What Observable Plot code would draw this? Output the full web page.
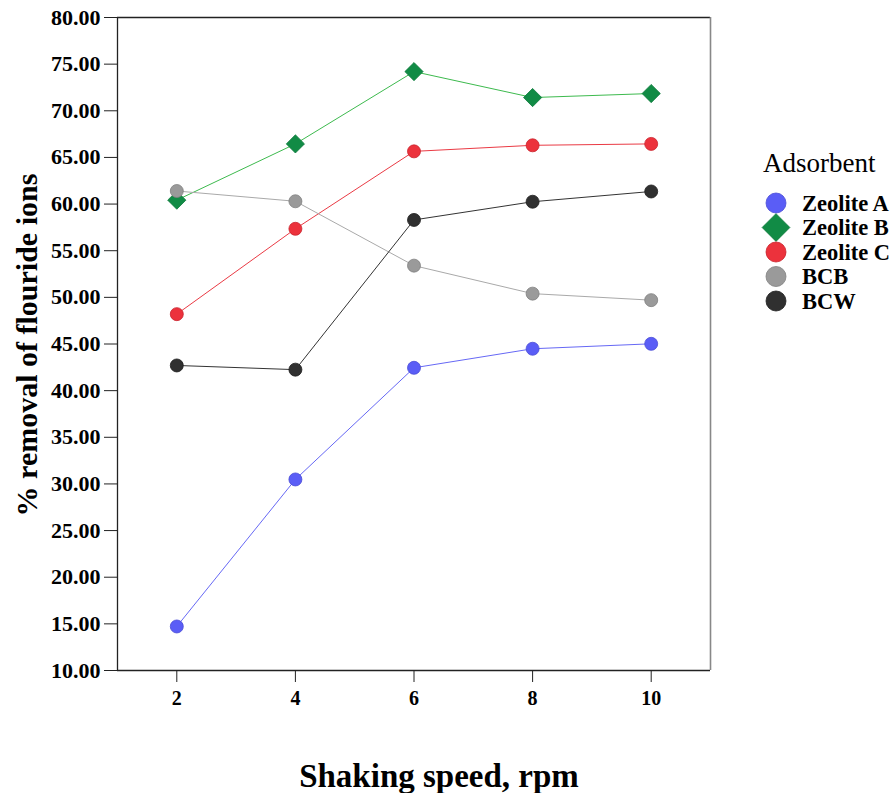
<!DOCTYPE html>
<html>
<head>
<meta charset="utf-8">
<script src="https://cdn.jsdelivr.net/npm/d3@7"></script>
<script src="https://cdn.jsdelivr.net/npm/@observablehq/plot@0.6"></script>
<style>
  html, body { margin: 0; padding: 0; background: #fff; }
  #chart svg { font-family: "Liberation Serif", "Times New Roman", serif !important; }
  #chart g[aria-label="y-axis tick label"] { font-weight: bold !important; font-size: 22px !important; }
  #chart g[aria-label="x-axis tick label"] { font-weight: bold !important; font-size: 20px !important; }
</style>
</head>
<body>
<div id="chart"></div>
<script>
const speeds = [2, 4, 6, 8, 10];
const seriesNames = ["Zeolite A", "Zeolite B", "Zeolite C", "BCB", "BCW"];
const zeoliteA = [14.72, 30.48, 42.45, 44.49, 45.02];
const zeoliteB = [60.42, 66.45, 74.2, 71.42, 71.85];
const zeoliteC = [48.2, 57.35, 65.65, 66.3, 66.45];
const bcb = [61.4, 60.3, 53.4, 50.4, 49.7];
const bcw = [42.7, 42.25, 58.3, 60.25, 61.35];
const yTicks = [10, 15, 20, 25, 30, 35, 40, 45, 50, 55, 60, 65, 70, 75, 80];
const xTicks = [2, 4, 6, 8, 10];
const lineColors = ["#6668f5", "#3dba4e", "#ea3a44", "#a9a9a9", "#333333"];
const fillColors = ["#5a5df6", "#118b45", "#ec323c", "#9a9a9a", "#303030"];
const edgeColors = ["#4a4cd6", "#0d7a3b", "#c9232d", "#808080", "#1e1e1e"];
const symbols = ["circle", "diamond2", "circle", "circle", "circle"];

const valueLists = [zeoliteA, zeoliteB, zeoliteC, bcb, bcw];
const rows = [];
seriesNames.forEach((name, i) => {
  speeds.forEach((s, j) => rows.push({series: name, speed: s, value: valueLists[i][j], idx: i}));
});

const chart = Plot.plot({
  width: 893,
  height: 793,
  marginLeft: 117,
  marginRight: 183,
  marginTop: 17,
  marginBottom: 123,
  style: {fontFamily: "Liberation Serif, Times New Roman, serif", background: "#fff", overflow: "visible"},
  x: {domain: [1, 11], ticks: xTicks},
  y: {domain: [10, 80], ticks: yTicks},
  marks: [
    Plot.ruleX([1], {stroke: "#222", strokeWidth: 1.3}),
    Plot.ruleY([10], {stroke: "#222", strokeWidth: 1.3}),
    Plot.ruleY([80], {stroke: "#222", strokeWidth: 1.3}),
    Plot.ruleX([11], {stroke: "#888", strokeWidth: 1.6}),
    Plot.axisY({ticks: yTicks, tickFormat: d3.format(".2f"), tickSize: 13, tickPadding: 4,
      fontSize: 22, fontWeight: "bold", label: null, stroke: "#222", fill: "#000"}),
    Plot.axisX({ticks: xTicks, tickFormat: d3.format("d"), tickSize: 12, tickPadding: 8,
      fontSize: 20, fontWeight: "bold", label: null, stroke: "#222", fill: "#000"}),
    ...seriesNames.map((name, i) =>
      Plot.line(rows.filter(d => d.idx === i), {x: "speed", y: "value", stroke: lineColors[i], strokeWidth: 1})
    ),
    ...seriesNames.map((name, i) =>
      Plot.dot(rows.filter(d => d.idx === i), {x: "speed", y: "value", symbol: symbols[i],
        r: symbols[i] === "circle" ? 6.5 : 8.2, fill: fillColors[i], stroke: edgeColors[i], strokeWidth: 0.8})
    )
  ]
});

document.getElementById("chart").appendChild(chart);

const svg = d3.select(chart);
// Axis titles
svg.append("text")
  .attr("transform", "translate(37,345) rotate(-90)")
  .attr("text-anchor", "middle")
  .attr("font-family", "Liberation Serif, Times New Roman, serif")
  .attr("font-weight", "bold")
  .attr("font-size", 30)
  .attr("fill", "#000")
  .text("% removal of flouride ions");

svg.append("text")
  .attr("x", 439)
  .attr("y", 787)
  .attr("text-anchor", "middle")
  .attr("font-family", "Liberation Serif, Times New Roman, serif")
  .attr("font-weight", "bold")
  .attr("font-size", 33)
  .attr("fill", "#000")
  .text("Shaking speed, rpm");

// Legend
const legend = svg.append("g")
  .attr("font-family", "Liberation Serif, Times New Roman, serif")
  .attr("text-anchor", "start");
legend.append("text")
  .attr("x", 763).attr("y", 172)
  .attr("text-anchor", "start")
  .attr("font-size", 27)
  .attr("fill", "#000")
  .text("Adsorbent");
seriesNames.forEach((name, i) => {
  const cy = 203 + i * 24.5;
  const sym = symbols[i] === "circle" ? d3.symbolCircle : d3.symbolDiamond2;
  const size = symbols[i] === "circle" ? Math.PI * 10 * 10 : Math.PI * 12.5 * 12.5;
  legend.append("path")
    .attr("transform", `translate(776,${cy})`)
    .attr("d", d3.symbol(sym, size)())
    .attr("fill", fillColors[i])
    .attr("stroke", edgeColors[i])
    .attr("stroke-width", 0.8);
  legend.append("text")
    .attr("x", 802).attr("y", cy + 7.5)
    .attr("text-anchor", "start")
    .attr("font-size", 22.5)
    .attr("font-weight", "bold")
    .attr("fill", "#000")
    .text(name);
});
</script>
</body>
</html>
